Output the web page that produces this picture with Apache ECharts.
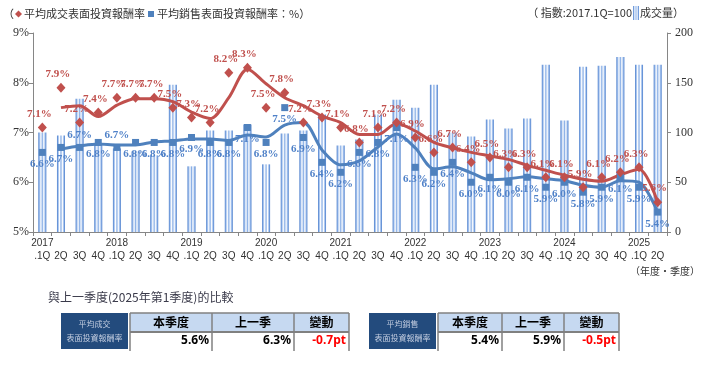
<!DOCTYPE html>
<html><head><meta charset="utf-8">
<script src="https://cdn.jsdelivr.net/npm/echarts/dist/echarts.min.js"></script>
<style>html,body{margin:0;padding:0;background:#fff}#c{width:720px;height:367px}</style>
</head><body><div id="c"></div>
<script>
// ---- data ----
const categories = [
 '2017.1Q','2017.2Q','2017.3Q','2017.4Q','2018.1Q','2018.2Q','2018.3Q','2018.4Q',
 '2019.1Q','2019.2Q','2019.3Q','2019.4Q','2020.1Q','2020.2Q','2020.3Q','2020.4Q',
 '2021.1Q','2021.2Q','2021.3Q','2021.4Q','2022.1Q','2022.2Q','2022.3Q','2022.4Q',
 '2023.1Q','2023.2Q','2023.3Q','2023.4Q','2024.1Q','2024.2Q','2024.3Q','2024.4Q',
 '2025.1Q','2025.2Q'];
// 平均成交表面投資報酬率 (%)
const dealYield = [7.1,7.9,7.2,7.4,7.7,7.7,7.7,7.5,7.3,7.2,8.2,8.3,7.5,7.8,7.2,7.3,
 7.1,6.8,7.1,7.2,6.9,6.6,6.7,6.4,6.5,6.3,6.3,6.1,6.1,5.9,6.1,6.2,6.3,5.6];
// 平均銷售表面投資報酬率 (%)
const askYield = [6.6,6.7,6.7,6.8,6.7,6.8,6.8,6.8,6.9,6.8,6.8,7.1,6.8,7.5,6.9,6.4,
 6.2,6.6,6.8,7.1,6.3,6.2,6.4,6.0,6.1,6.0,6.1,5.9,6.0,5.8,5.9,6.1,5.9,5.4];
// trend lines
const dealTrend = [null,7.5,7.54,7.32,7.55,7.68,7.68,7.62,7.41,7.28,7.7,8.27,7.98,7.7,7.54,7.33,
 7.2,6.96,6.96,7.18,7.03,6.8,6.69,6.6,6.53,6.46,6.34,6.24,6.14,6.06,6.02,6.15,6.26,5.6];
const askTrend = [null,6.67,6.73,6.77,6.75,6.75,6.81,6.83,6.87,6.87,6.84,6.95,6.91,7.15,7.2,6.65,
 6.35,6.43,6.71,6.97,6.69,6.27,6.31,6.19,6.05,6.07,6.11,6.07,6.03,5.94,5.9,6.03,6.0,5.4];
// 成交量 index (2017.1Q=100)
const volumeIndex = [100,97,134,89,84,81,77,148,66,102,102,108,68,99,102,118,
 87,93,118,133,125,148,100,96,113,104,114,168,112,166,167,176,168,168];
const tableHeaders = ['本季度','上一季','變動'];
const dealCompare = ['5.6%','6.3%','-0.7pt'];
const askCompare = ['5.4%','5.9%','-0.5pt'];

// ---- chart ----
const RED = '#c0504d', BLUE = '#4f81bd';
const barGrad = new echarts.graphic.LinearGradient(0,0,1,0,[
  {offset:0,color:'#4378c9'},{offset:0.16,color:'#9dbdec'},{offset:0.32,color:'#ffffff'},
  {offset:0.5,color:'#8bb0e6'},{offset:0.68,color:'#ffffff'},{offset:0.84,color:'#9dbdec'},{offset:1,color:'#4378c9'}]);
const blueTop = [2,4];
const CJK = '"Noto Sans CJK TC","Noto Sans CJK SC",sans-serif';

function tableGraphics(boxX, cols, title1, title2, vals){
  const els = [];
  const y0 = 313, yh = 332, y1 = 349;
  els.push({type:'rect',shape:{x:boxX,y:y0,width:67,height:y1-y0},style:{fill:'#234b7d'}});
  els.push({type:'text',style:{text:title1,x:boxX+33.5,y:324,align:'center',verticalAlign:'middle',font:'8px '+CJK,fill:'#c3cde0'}});
  els.push({type:'text',style:{text:title2,x:boxX+33.5,y:338,align:'center',verticalAlign:'middle',font:'8px '+CJK,fill:'#c3cde0'}});
  els.push({type:'rect',shape:{x:cols[0],y:y0,width:cols[3]-cols[0],height:yh-y0},style:{fill:'#c6d9f1'}});
  els.push({type:'line',shape:{x1:cols[0],y1:y0,x2:cols[3],y2:y0},style:{stroke:'#808080',lineWidth:1.5}});
  els.push({type:'line',shape:{x1:cols[0],y1:yh,x2:cols[3],y2:yh},style:{stroke:'#808080',lineWidth:2}});
  cols.forEach(c=>els.push({type:'line',shape:{x1:c,y1:y0,x2:c,y2:y1+2},style:{stroke:'#808080',lineWidth:1.5}}));
  for(let i=0;i<3;i++){
    els.push({type:'text',style:{text:tableHeaders[i],x:(cols[i]+cols[i+1])/2,y:322.5,align:'center',verticalAlign:'middle',font:'bold 12px '+CJK,fill:'#000'}});
    els.push({type:'text',style:{text:vals[i],x:cols[i+1]-3,y:341,align:'right',verticalAlign:'middle',font:'bold 12px "Noto Sans",sans-serif',fill:i===2?'#ff0000':'#000'}});
  }
  return els;
}

const legendEls = [
  {type:'text',style:{text:'（',x:3,y:14,verticalAlign:'middle',font:'11px '+CJK,fill:'#333'}},
  {type:'polygon',shape:{points:[[18.5,10.5],[22,14],[18.5,17.5],[15,14]]},style:{fill:RED}},
  {type:'text',style:{text:'平均成交表面投資報酬率',x:24,y:14,verticalAlign:'middle',font:'11px '+CJK,fill:'#333'}},
  {type:'rect',shape:{x:148,y:11,width:6,height:6},style:{fill:BLUE}},
  {type:'text',style:{text:'平均銷售表面投資報酬率：%）',x:157,y:14,verticalAlign:'middle',font:'11px '+CJK,fill:'#333'}},
  {type:'text',style:{text:'（ 指數:2017.1Q=100',x:632,y:13,align:'right',verticalAlign:'middle',font:'11px '+CJK,fill:'#333'}},
  {type:'rect',shape:{x:633,y:6,width:6,height:14},style:{fill:barGrad}},
  {type:'text',style:{text:'成交量）',x:640,y:13,verticalAlign:'middle',font:'11px '+CJK,fill:'#333'}},
  {type:'text',style:{text:'（年度‧季度）',x:700,y:271,align:'right',verticalAlign:'middle',font:'10px '+CJK,fill:'#333'}},
  {type:'text',style:{text:'與上一季度(2025年第1季度)的比較',x:48,y:297,verticalAlign:'middle',font:'12px '+CJK,fill:'#3a3a4a'}}
];

const chart = echarts.init(document.getElementById('c'), null, {renderer:'canvas'});
chart.setOption({
  animation:false,
  grid:{left:33,right:53,top:33,bottom:135,containLabel:false},
  xAxis:{type:'category',data:categories,boundaryGap:true,
    axisLine:{lineStyle:{color:'#868686'}},
    axisTick:{show:true,interval:0,length:4,lineStyle:{color:'#868686'}},
    axisLabel:{interval:0,margin:5,fontSize:10,lineHeight:13,color:'#333',fontFamily:'"Liberation Sans",Arial,sans-serif',
      formatter:v=>{const p=v.split('.');return p[1]==='1Q'?p[0]+'\n.1Q':'\n'+p[1];}}},
  yAxis:[
    {type:'value',min:5,max:9,interval:1,splitLine:{show:false},
     axisLine:{show:true,lineStyle:{color:'#868686'}},axisTick:{show:true,length:4,lineStyle:{color:'#868686'}},
     axisLabel:{formatter:'{value}%',fontSize:12,color:'#333',fontFamily:'"Liberation Serif","Times New Roman",serif',margin:4}},
    {type:'value',min:0,max:200,interval:50,splitLine:{show:false},
     axisLine:{show:true,lineStyle:{color:'#868686'}},axisTick:{show:true,length:4,lineStyle:{color:'#868686'}},
     axisLabel:{fontSize:12,color:'#333',fontFamily:'"Liberation Serif","Times New Roman",serif',margin:8}}
  ],
  series:[
    {type:'bar',yAxisIndex:1,data:volumeIndex,barWidth:8,itemStyle:{color:barGrad},z:1},
    {type:'line',data:dealTrend,smooth:0.3,symbol:'none',lineStyle:{color:RED,width:3},z:3},
    {type:'line',data:askTrend,smooth:0.3,symbol:'none',lineStyle:{color:BLUE,width:3},z:3},
    {type:'scatter',data:askYield.map((v,i)=>blueTop.includes(i)?{value:v,label:{position:'top'}}:v),
     symbol:'rect',symbolSize:7,itemStyle:{color:BLUE,opacity:1},z:5,
     label:{show:true,position:'bottom',distance:3,formatter:p=>p.value.toFixed(1)+'%',color:'#4f81c8',
       fontFamily:'"Liberation Serif","Times New Roman",serif',fontSize:11,fontWeight:'bold'}},
    {type:'scatter',data:dealYield,symbol:'diamond',symbolSize:[9,10],itemStyle:{color:RED,opacity:1},z:6,
     label:{show:true,position:'top',distance:3,offset:[-3,0],formatter:p=>p.value.toFixed(1)+'%',color:RED,
       fontFamily:'"Liberation Serif","Times New Roman",serif',fontSize:11,fontWeight:'bold'}}
  ],
  graphic:legendEls.concat(
    tableGraphics(61,[130,212,294,349],'平均成交','表面投資報酬率',dealCompare),
    tableGraphics(369,[438,502,564,619],'平均銷售','表面投資報酬率',askCompare))
});
</script></body></html>
